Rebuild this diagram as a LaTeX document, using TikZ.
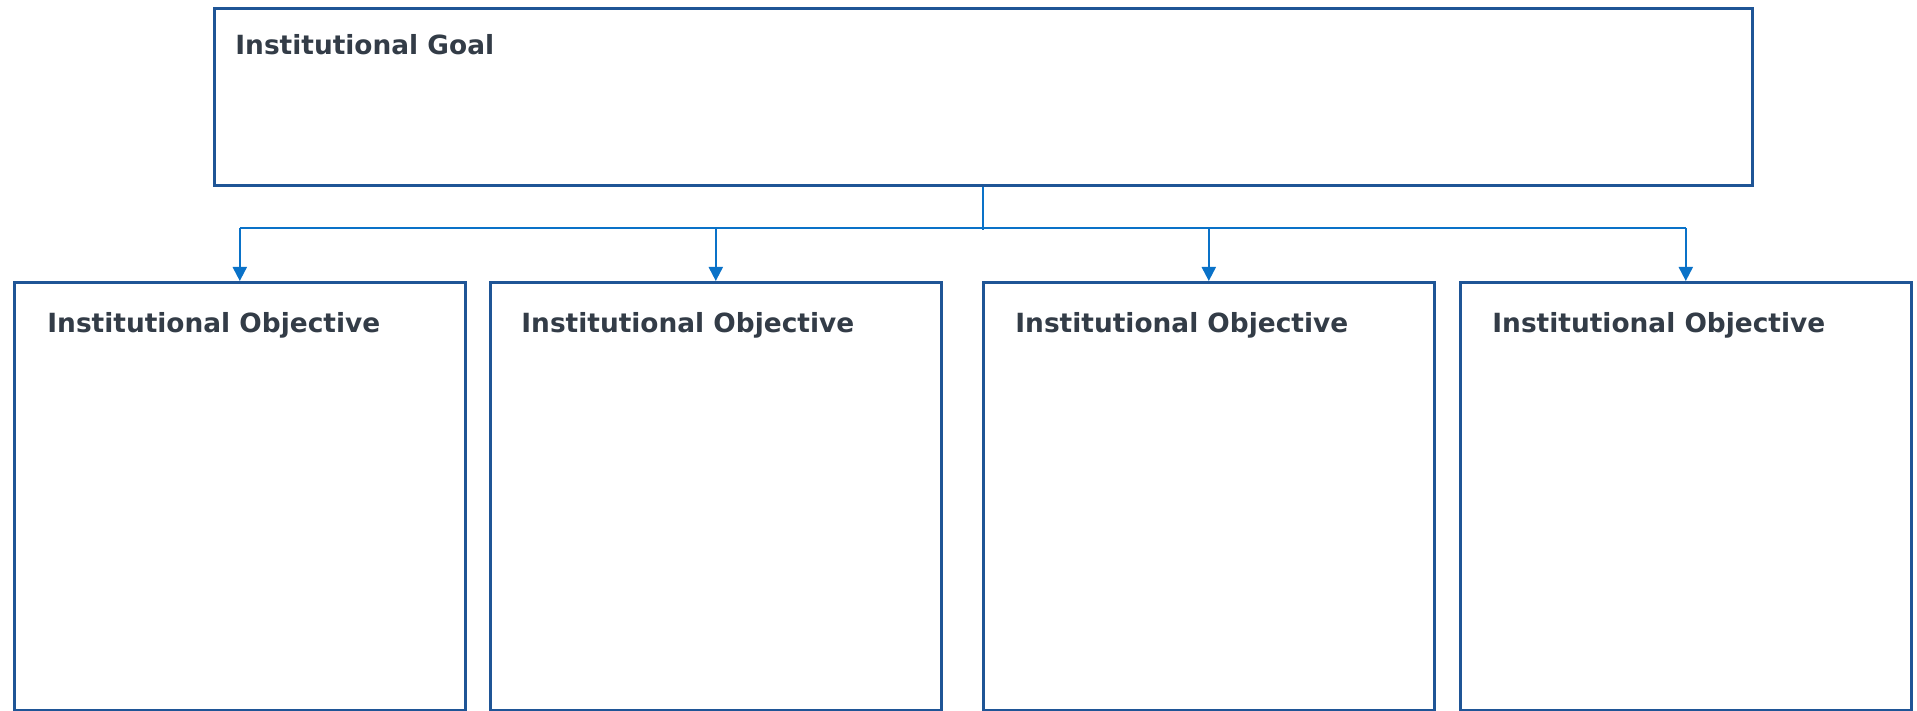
\documentclass[tikz,border=0pt]{standalone}
\usepackage{fontspec}
\newfontfamily\lab{DejaVu Sans}
\usetikzlibrary{arrows.meta}
\definecolor{boxblue}{HTML}{1F5596}
\definecolor{linkblue}{HTML}{0A72C8}
\definecolor{txt}{HTML}{333C47}
\tikzset{
  box/.style={draw=boxblue, line width=1.3pt},
  lbl/.style={anchor=base west, inner sep=0pt, text=txt, font=\lab\bfseries\fontsize{13.2}{16}\selectfont},
  link/.style={draw=linkblue, line width=1pt},
  arr/.style={link, -{Triangle[length=7pt,width=7pt]}},
}
\begin{document}
\begin{tikzpicture}[x=0.5pt,y=-0.5pt]
\useasboundingbox (0,0) rectangle (1917,711);
\node[box, minimum width=769pt, minimum height=88.5pt, anchor=north west, inner sep=0pt] (goal) at (213,7) {};
\node[lbl] (goaltxt) at (235,55) {Institutional Goal};
\foreach \i/\x/\t in {1/13/47,2/489/521,3/982/1015,4/1459/1492}{
  \node[box, minimum width=225.5pt, minimum height=214pt, anchor=north west, inner sep=0pt] (obj\i) at (\x,281) {};
  \node[lbl] (objtxt\i) at (\t,333) {Institutional Objective};
}
\coordinate (j) at (goal.south |- 0,230);
\foreach \i in {1,...,4}{ \coordinate (b\i) at (obj\i.north |- 0,228); }
\draw[link] (goal.south) -- (j);
\draw[link] (b1) -- (b4);
\foreach \i in {1,...,4}{ \draw[arr] (b\i) -- (obj\i.north); }
\end{tikzpicture}
\end{document}
